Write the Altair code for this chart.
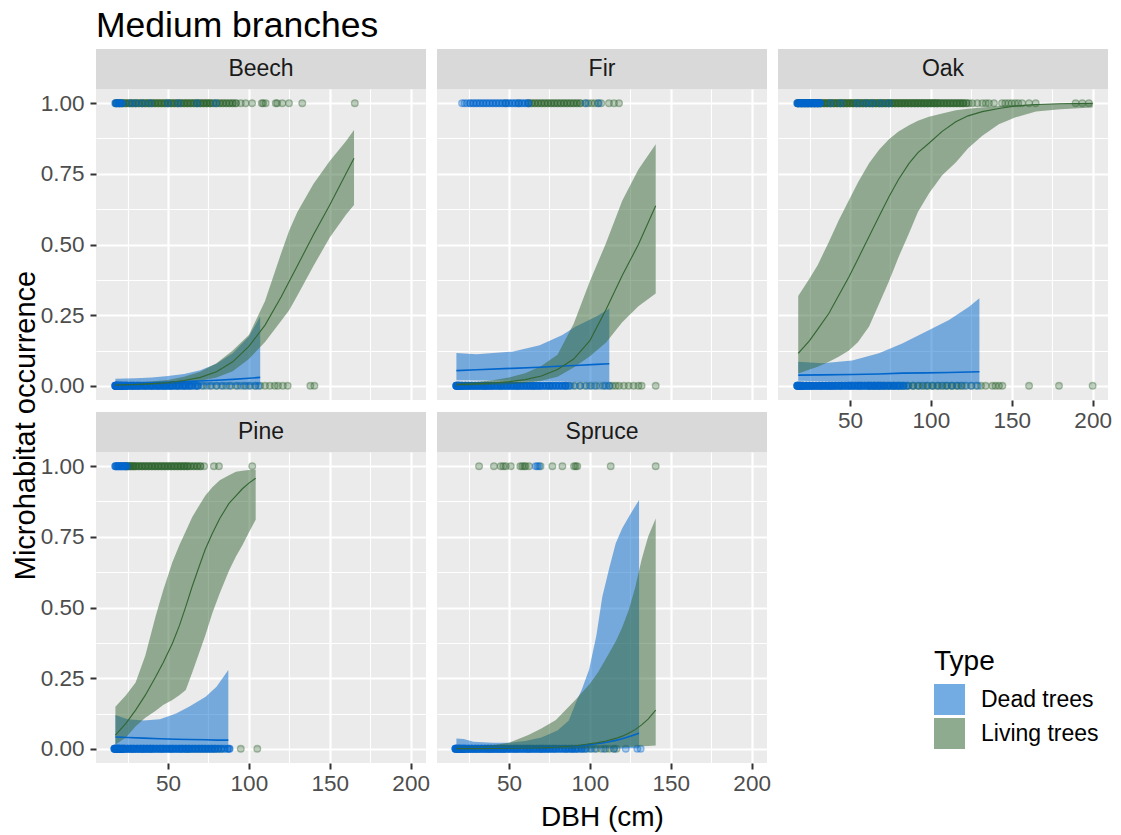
import itertools
import altair as alt
import pandas as pd

# ---------------- data ----------------
SPECIES = ["Beech", "Fir", "Oak", "Pine", "Spruce"]
TYPES = ["Dead trees", "Living trees"]
COLORS = ["#0066CC", "#336633"]

# observed trees (DBH in cm) with occurrence 1 / 0; *_n = trees sharing that DBH
# (estimated from how dark the dense runs are; values past the end of *_n count once)
beech_dead_y1 = [17.5, 18.5, 19.5, 20.5, 21.5, 27, 30, 34, 39, 50, 56.5, 68, 79.5]
beech_dead_y1_n = [2, 2, 2, 2, 2]
beech_live_y1 = [18, 20, 22, 24, 26, 28, 30, 32, 34, 36, 38, 40, 42, 44, 46, 48, 50, 52, 54, 56, 58, 60,
                 62, 64, 66, 68, 70, 72, 74, 76, 78, 80, 82, 84, 86, 88, 90, 92, 95, 98, 102, 108, 108.8,
                 110.4, 116.6, 117.5, 120.7, 124.8, 133, 165.5]
beech_live_y1_n = [3, 3, 3, 3, 3, 3, 3, 3, 3, 3, 3, 3, 3, 3, 3, 3, 3, 3, 3, 3, 3, 3, 3, 3, 3, 3, 3, 3,
                   3, 3, 2, 2, 2, 2, 2, 2, 2, 2]
beech_dead_y0 = [17.5, 18, 18.5, 19, 20, 21, 22, 23.5, 25, 27, 29, 31, 33, 35, 37, 39, 41, 43, 45, 47,
                 49, 51, 53, 55, 57, 59, 61, 63, 65, 67, 68.5, 72, 76, 80, 84, 88, 93, 97, 100, 104, 106]
beech_dead_y0_n = [6, 6, 6, 6, 6, 6, 6, 6, 5, 5, 5, 5, 4, 4, 4, 4, 4, 4, 4, 4, 4, 4, 3, 3, 3, 3, 3, 3,
                   2, 2, 2]
beech_live_y0 = [20, 24, 28, 32, 36, 40, 44, 48, 52, 56, 60, 64, 68, 71, 74, 77, 80, 83, 86, 89, 92, 95,
                 98, 101, 104, 107, 110, 113, 116, 118, 121, 124, 138, 140.5]
beech_live_y0_n = []

fir_dead_y1 = [21, 22.5, 24, 26, 28, 30, 32, 34, 36, 38, 40, 42, 44, 46, 48, 50, 52, 54, 56, 58, 60, 62,
               97.5, 105.5]
fir_dead_y1_n = [1, 1, 1, 2, 2, 2, 2, 2, 2, 2, 2, 2, 2, 2, 2, 2, 2, 2, 2, 2, 2, 2]
fir_live_y1 = [48, 56, 62, 64, 66, 68, 70, 72, 74, 76, 78, 80, 82, 84, 86, 88, 90, 92, 94, 97, 99, 101,
               103, 105, 107, 111.8, 114.9, 118]
fir_live_y1_n = [1, 1, 2, 2, 2, 2, 2, 2, 2, 2, 2, 2, 2, 2, 2, 2, 2, 2, 2]
fir_dead_y0 = [17.5, 18.5, 19.5, 21, 23, 25, 27, 29, 31, 33, 35, 37, 39, 41, 43, 45, 47, 49, 51, 53, 55,
               57, 59, 61, 63, 65, 67, 69, 71, 73, 75, 77, 79, 81, 83, 85, 87, 90, 94, 98, 101, 104, 108,
               110, 112]
fir_dead_y0_n = [6, 6, 6, 6, 6, 5, 5, 5, 5, 5, 5, 5, 5, 4, 4, 4, 4, 4, 4, 4, 4, 4, 4, 4, 4, 4, 4, 4, 3,
                 3, 3, 3, 3, 3, 3, 3, 2]
fir_live_y0 = [25, 35, 45, 55, 65, 75, 85, 88, 91, 94, 97, 100, 103, 106, 109, 112, 114, 116, 118, 121,
               124, 127, 130, 132, 140.7]
fir_live_y0_n = []

oak_dead_y1 = [17.5, 18.5, 19.5, 20.5, 21.5, 22.5, 23.5, 24.5, 25.5, 26.5, 27.5, 28.5, 29.5, 30.5, 31.5,
               38, 44.3, 54.5, 59.7, 63.8, 69, 74]
oak_dead_y1_n = [3, 3, 3, 3, 3, 3, 3, 3, 3, 3, 3, 3, 3, 3, 3]
oak_live_y1 = [18, 20, 22, 24, 26, 28, 30, 32, 34, 36, 38, 40, 42, 44, 46, 48, 50, 52, 54, 56, 58, 60, 62,
               64, 66, 68, 70, 72, 74, 76, 78, 80, 82, 84, 86, 88, 90, 92, 94, 96, 98, 100, 102, 104, 106,
               108, 110, 112, 114, 116, 118, 120, 122, 123.5, 125.6, 128.7, 131.8, 134, 135.9, 139, 144,
               146, 148, 150, 152, 154, 156.4, 160.7, 164.8, 189.5, 193.6, 197.7]
oak_live_y1_n = [4, 4, 4, 4, 4, 4, 4, 4, 4, 4, 4, 4, 4, 4, 4, 4, 4, 4, 4, 4, 4, 4, 4, 4, 4, 4, 4, 4, 4,
                 4, 4, 4, 4, 4, 4, 4, 4, 4, 4, 4, 4, 4, 4, 4, 3, 3, 3, 3, 3, 3, 3, 3, 2]
oak_dead_y0 = [17.5, 18.5, 19.5, 21, 23, 25, 27, 29, 31, 33, 35, 37, 39, 41, 43, 45, 47, 49, 51, 53, 55,
               57, 59, 61, 63, 65, 67, 69, 71, 73, 75, 77, 79, 81, 83, 85, 89, 93, 97, 101, 105, 109, 113,
               117, 121, 125, 129]
oak_dead_y0_n = [6, 6, 6, 6, 6, 6, 5, 5, 5, 5, 5, 5, 5, 5, 4, 4, 4, 4, 4, 4, 4, 4, 4, 4, 4, 4, 4, 4, 3,
                 3, 3, 3, 3, 3, 2, 2]
oak_live_y0 = [20, 26, 32, 38, 44, 50, 56, 62, 65, 68, 71, 74, 77, 80, 83, 86, 89, 92, 95, 98, 101, 104,
               107, 110, 113, 116, 119, 122, 125, 128, 131, 133.9, 138, 140, 142.1, 144.2, 160.7, 179.2, 200]
oak_live_y0_n = [1, 1, 1, 1, 1, 1, 1, 2, 2, 2, 2, 2, 2, 2, 2, 2, 2, 2, 2, 2, 2, 2, 2, 2, 2, 2, 2]

pine_dead_y1 = [17.5, 18.5, 19.5, 20.5, 21.5, 22.5, 23.5, 24.5]
pine_dead_y1_n = [3, 3, 3, 3, 3, 3, 2, 2]
pine_live_y1 = [24, 25.5, 27, 28.5, 30, 32, 34, 36, 38, 40, 42, 44, 46, 48, 50, 52, 54, 56, 58, 60, 62,
                64, 66, 68, 70, 72.3, 78.4, 81.5, 102.1]
pine_live_y1_n = [3, 3, 3, 3, 3, 3, 3, 3, 3, 3, 3, 3, 3, 3, 3, 3, 3, 3, 3, 3, 3, 2, 2, 2, 2]
pine_dead_y0 = [17, 18, 19, 20, 21.5, 23, 25, 27, 29, 31, 33, 35, 37, 39, 41, 43, 45, 47, 49, 51, 53, 55,
                57, 59, 61, 63, 65, 67, 69, 71, 73, 75, 77, 79, 81, 83, 85, 87, 88]
pine_dead_y0_n = [6, 6, 6, 6, 6, 6, 5, 5, 5, 5, 5, 5, 5, 5, 4, 4, 4, 4, 4, 4, 4, 4, 4, 4, 4, 4, 3, 3, 3,
                  3, 3, 3, 3, 3, 2, 2, 2, 2, 2]
pine_live_y0 = [22, 28, 34, 40, 46, 52, 58, 61, 63, 65, 67, 69, 71, 73, 75, 77, 79, 81, 83, 95, 105.2]
pine_live_y0_n = []

spruce_dead_y1 = [66.5, 67.5, 68.6]
spruce_dead_y1_n = []
spruce_live_y1 = [31.5, 40.7, 44.9, 46.5, 48, 51.1, 57, 58.2, 59.5, 60.3, 62.4, 69.5, 76.8, 83, 90.2,
                  91.2, 92.2, 112.9, 140.7]
spruce_live_y1_n = []
spruce_dead_y0 = [17, 18, 19, 20, 21.5, 23, 25, 27, 29, 31, 33, 35, 37, 39, 41, 43, 45, 47, 49, 51, 53,
                  55, 57, 59, 61, 63, 65, 67, 69, 71, 73, 75, 77, 79, 81, 83, 85, 87, 89, 91, 93, 95, 97,
                  100, 103, 108.7, 114.9, 122.2, 129.3, 131.4]
spruce_dead_y0_n = [6, 6, 6, 6, 6, 6, 6, 6, 5, 5, 5, 5, 5, 5, 5, 5, 5, 5, 4, 4, 4, 4, 4, 4, 4, 4, 4, 4,
                    4, 4, 4, 4, 3, 3, 3, 3, 3, 3, 3, 3, 2, 2, 2]
spruce_live_y0 = [22, 30, 38, 46, 54, 62, 70, 78, 85, 89, 92, 95, 98, 101, 104, 107, 109.8, 112, 114.9,
                  116.5]
spruce_live_y0_n = []

# fitted probability curves with confidence band (dbh, fit, lower, upper)
bd_x = [17.5, 30, 40, 50, 60, 70, 80, 90, 100, 107]
bd_fit = [0.008, 0.010, 0.011, 0.013, 0.015, 0.017, 0.020, 0.023, 0.027, 0.030]
bd_lo = [0.001, 0.001, 0.0015, 0.002, 0.002, 0.0025, 0.003, 0.003, 0.003, 0.003]
bd_hi = [0.025, 0.027, 0.030, 0.035, 0.042, 0.055, 0.078, 0.115, 0.175, 0.245]

bl_x = [17.5, 30, 40, 50, 60, 70, 80, 90, 100, 110, 120, 125, 130, 140, 150, 160, 165]
bl_fit = [0.003, 0.005, 0.008, 0.012, 0.019, 0.030, 0.050, 0.085, 0.140, 0.215, 0.315, 0.370, 0.425,
          0.535, 0.640, 0.750, 0.805]
bl_lo = [0.001, 0.002, 0.004, 0.007, 0.011, 0.018, 0.030, 0.052, 0.095, 0.155, 0.230, 0.268, 0.320,
         0.425, 0.525, 0.605, 0.640]
bl_hi = [0.008, 0.011, 0.015, 0.021, 0.032, 0.050, 0.080, 0.125, 0.180, 0.300, 0.470, 0.550, 0.615,
         0.715, 0.795, 0.865, 0.905]

fd_x = [17.5, 30, 52, 69, 83, 91, 104, 112]
fd_fit = [0.054, 0.057, 0.062, 0.066, 0.070, 0.072, 0.076, 0.078]
fd_lo = [0.020, 0.019, 0.018, 0.016, 0.015, 0.014, 0.013, 0.012]
fd_hi = [0.116, 0.112, 0.121, 0.144, 0.180, 0.209, 0.245, 0.274]

fl_x = [17.5, 30, 40, 50, 60, 70, 80, 90, 100, 110, 120, 130, 140.7]
fl_fit = [0.004, 0.007, 0.010, 0.015, 0.022, 0.035, 0.058, 0.095, 0.160, 0.270, 0.390, 0.500, 0.637]
fl_lo = [0.001, 0.002, 0.004, 0.006, 0.010, 0.018, 0.032, 0.065, 0.105, 0.153, 0.225, 0.282, 0.327]
fl_hi = [0.010, 0.014, 0.020, 0.030, 0.045, 0.070, 0.110, 0.220, 0.370, 0.505, 0.655, 0.765, 0.855]

od_x = [18, 33, 51.4, 67.9, 82.3, 96.8, 111.2, 123.6, 130]
od_fit = [0.038, 0.039, 0.040, 0.042, 0.045, 0.046, 0.047, 0.049, 0.050]
od_lo = [0.018, 0.016, 0.014, 0.013, 0.012, 0.011, 0.010, 0.009, 0.008]
od_hi = [0.085, 0.080, 0.090, 0.115, 0.150, 0.191, 0.233, 0.280, 0.310]

ol_x = [18, 25, 30, 37, 43, 49.4, 55, 61.8, 68, 74.1, 80, 86.5, 92, 98.8, 107, 115.4, 123, 131.8, 142,
        152.4, 165, 180, 200]
ol_fit = [0.115, 0.160, 0.200, 0.257, 0.320, 0.386, 0.450, 0.528, 0.600, 0.669, 0.730, 0.787, 0.825,
          0.858, 0.900, 0.934, 0.955, 0.970, 0.981, 0.990, 0.995, 0.998, 0.999]
ol_lo = [0.044, 0.058, 0.068, 0.085, 0.103, 0.125, 0.155, 0.210, 0.290, 0.370, 0.455, 0.540, 0.615,
         0.680, 0.745, 0.790, 0.840, 0.885, 0.925, 0.950, 0.970, 0.978, 0.985]
ol_hi = [0.318, 0.380, 0.427, 0.510, 0.585, 0.657, 0.720, 0.787, 0.835, 0.872, 0.900, 0.922, 0.938,
         0.952, 0.963, 0.975, 0.980, 0.985, 0.990, 0.993, 0.996, 0.998, 0.9995]

pd_x = [17.5, 25, 35, 45, 55, 63, 73.3, 80, 87.3]
pd_fit = [0.042, 0.040, 0.038, 0.036, 0.034, 0.033, 0.032, 0.031, 0.031]
pd_lo = [0.012, 0.010, 0.008, 0.007, 0.006, 0.005, 0.004, 0.003, 0.003]
pd_hi = [0.120, 0.105, 0.100, 0.105, 0.125, 0.149, 0.184, 0.220, 0.279]

pl_x = [17.5, 24, 30, 36, 42.4, 47, 52.7, 57, 61, 65, 69.2, 73, 77.4, 82, 87.7, 92, 96, 100, 104.2]
pl_fit = [0.049, 0.090, 0.137, 0.190, 0.255, 0.305, 0.373, 0.435, 0.503, 0.575, 0.644, 0.705, 0.762,
          0.815, 0.868, 0.895, 0.920, 0.940, 0.957]
pl_lo = [0.015, 0.040, 0.080, 0.110, 0.135, 0.155, 0.173, 0.190, 0.208, 0.270, 0.338, 0.400, 0.480,
         0.550, 0.630, 0.680, 0.720, 0.765, 0.810]
pl_hi = [0.149, 0.190, 0.235, 0.330, 0.470, 0.560, 0.660, 0.720, 0.770, 0.820, 0.860, 0.895, 0.925,
         0.950, 0.968, 0.980, 0.984, 0.986, 0.987]

sd_x = [17.5, 22, 28, 40, 50, 60, 70, 80, 87, 91.2, 95, 99.5, 104, 107.7, 112, 116, 120, 125, 130.4]
sd_fit = [0.003, 0.003, 0.003, 0.003, 0.004, 0.004, 0.005, 0.007, 0.009, 0.010, 0.012, 0.015, 0.018,
          0.021, 0.025, 0.030, 0.036, 0.045, 0.055]
sd_lo = [0.0004, 0.0004, 0.0004, 0.0004, 0.0005, 0.0005, 0.0006, 0.0007, 0.0008, 0.0009, 0.0010,
         0.0011, 0.0012, 0.0013, 0.0014, 0.0015, 0.0016, 0.0018, 0.0020]
sd_hi = [0.037, 0.035, 0.025, 0.022, 0.022, 0.028, 0.040, 0.065, 0.100, 0.161, 0.210, 0.280, 0.400,
         0.538, 0.640, 0.727, 0.780, 0.830, 0.880]

sl_x = [17.5, 30, 40, 50, 62, 70, 79, 91, 100, 105, 110, 116, 120, 124, 128, 132, 136, 140.7]
sl_fit = [0.001, 0.001, 0.0015, 0.002, 0.003, 0.004, 0.006, 0.011, 0.018, 0.022, 0.028, 0.037, 0.045,
          0.055, 0.068, 0.085, 0.105, 0.137]
sl_lo = [0.0002, 0.0002, 0.0003, 0.0004, 0.0005, 0.0007, 0.001, 0.0015, 0.002, 0.003, 0.004, 0.005,
         0.006, 0.007, 0.008, 0.009, 0.010, 0.012]
sl_hi = [0.008, 0.009, 0.013, 0.022, 0.049, 0.072, 0.102, 0.173, 0.230, 0.270, 0.320, 0.380, 0.430,
         0.490, 0.570, 0.670, 0.750, 0.815]

X_TICKS = [25, 50, 75, 100, 125, 150, 175, 200]
Y_TICKS = [0, 0.125, 0.25, 0.375, 0.5, 0.625, 0.75, 0.875, 1.0]

# ---------------- tables ----------------
point_sets = {
    "Beech": [(TYPES[1], 1, beech_live_y1, beech_live_y1_n), (TYPES[1], 0, beech_live_y0, beech_live_y0_n),
              (TYPES[0], 1, beech_dead_y1, beech_dead_y1_n), (TYPES[0], 0, beech_dead_y0, beech_dead_y0_n)],
    "Fir": [(TYPES[1], 1, fir_live_y1, fir_live_y1_n), (TYPES[1], 0, fir_live_y0, fir_live_y0_n),
            (TYPES[0], 1, fir_dead_y1, fir_dead_y1_n), (TYPES[0], 0, fir_dead_y0, fir_dead_y0_n)],
    "Oak": [(TYPES[1], 1, oak_live_y1, oak_live_y1_n), (TYPES[1], 0, oak_live_y0, oak_live_y0_n),
            (TYPES[0], 1, oak_dead_y1, oak_dead_y1_n), (TYPES[0], 0, oak_dead_y0, oak_dead_y0_n)],
    "Pine": [(TYPES[1], 1, pine_live_y1, pine_live_y1_n), (TYPES[1], 0, pine_live_y0, pine_live_y0_n),
             (TYPES[0], 1, pine_dead_y1, pine_dead_y1_n), (TYPES[0], 0, pine_dead_y0, pine_dead_y0_n)],
    "Spruce": [(TYPES[1], 1, spruce_live_y1, spruce_live_y1_n),
               (TYPES[1], 0, spruce_live_y0, spruce_live_y0_n),
               (TYPES[0], 1, spruce_dead_y1, spruce_dead_y1_n),
               (TYPES[0], 0, spruce_dead_y0, spruce_dead_y0_n)],
}
curve_sets = {
    "Beech": ((bd_x, bd_fit, bd_lo, bd_hi), (bl_x, bl_fit, bl_lo, bl_hi)),
    "Fir": ((fd_x, fd_fit, fd_lo, fd_hi), (fl_x, fl_fit, fl_lo, fl_hi)),
    "Oak": ((od_x, od_fit, od_lo, od_hi), (ol_x, ol_fit, ol_lo, ol_hi)),
    "Pine": ((pd_x, pd_fit, pd_lo, pd_hi), (pl_x, pl_fit, pl_lo, pl_hi)),
    "Spruce": ((sd_x, sd_fit, sd_lo, sd_hi), (sl_x, sl_fit, sl_lo, sl_hi)),
}

prow = []
crow = []
for sp in SPECIES:
    for typ, occ, vals, counts in point_sets[sp]:
        for v, n in itertools.zip_longest(vals, counts[:len(vals)], fillvalue=1):
            for _ in range(n):
                prow.append((sp, typ, v, occ))
    for typ, (xs, fs, ls, hs) in zip(TYPES, curve_sets[sp]):
        for a, b, c, d in zip(xs, fs, ls, hs):
            crow.append((sp, typ, a, b, c, d))
points = pd.DataFrame(prow, columns=["species", "type", "dbh", "occ"])
curves = pd.DataFrame(crow, columns=["species", "type", "dbh", "fit", "lo", "hi"])

# ---------------- chart ----------------
FONT = "Liberation Sans"
W, H, STRIP = 330, 311, 40
XDOM, YDOM = [5.5, 209.5], [-0.05, 1.05]
xscale = alt.Scale(domain=XDOM, nice=False, zero=False)
yscale = alt.Scale(domain=YDOM, nice=False, zero=False)
XMAJ = "datum.value % 50 === 0"
YMAJ = "abs(datum.value * 4 - round(datum.value * 4)) < 0.001"


def x_axis(show, title=None):
    return alt.Axis(
        values=X_TICKS, grid=True, gridColor="#FFFFFF",
        gridWidth={"condition": {"test": XMAJ, "value": 2.2}, "value": 1.1},
        domain=False, ticks=show, tickColor="#333333", tickSize=6, tickWidth=2,
        tickOpacity={"condition": {"test": XMAJ, "value": 1}, "value": 0},
        labels=show, labelExpr=f"{XMAJ} ? datum.label : ''", labelFont=FONT,
        labelFontSize=22.5, labelColor="#4D4D4D", labelPadding=3, labelOverlap=False,
        labelFlush=False, title=title, titleFont=FONT, titleFontSize=28,
        titleFontWeight="normal", titleColor="#000000", titlePadding=9,
    )


def y_axis(show, with_title=False):
    if with_title:
        extra = dict(title="Microhabitat occurrence", titleX=-71, titleY=336,
                     titleAlign="center", titleBaseline="middle", titleAngle=270)
    else:
        extra = dict(title=None)
    return alt.Axis(
        values=Y_TICKS, grid=True, gridColor="#FFFFFF",
        gridWidth={"condition": {"test": YMAJ, "value": 2.2}, "value": 1.1},
        domain=False, ticks=show, tickColor="#333333", tickSize=6, tickWidth=2,
        tickOpacity={"condition": {"test": YMAJ, "value": 1}, "value": 0},
        labels=show, labelExpr=f"{YMAJ} ? format(datum.value, '.2f') : ''", labelFont=FONT,
        labelFontSize=22.5, labelColor="#4D4D4D", labelPadding=6, labelOverlap=False,
        labelFlush=False, titleFont=FONT, titleFontSize=29, titleFontWeight="normal",
        titleColor="#000000", **extra,
    )


legend = alt.Legend(
    title="Type", orient="none", legendX=838, legendY=559, direction="vertical",
    titleFont=FONT, titleFontSize=28, titleFontWeight="normal", titleColor="#000000",
    titlePadding=8, labelFont=FONT, labelFontSize=23, labelColor="#000000", labelOffset=16,
    symbolType="square", symbolSize=961, symbolOpacity=0.55, symbolStrokeWidth=0, rowPadding=3,
)


def panel(sp, show_x, show_y, x_title=None, y_title=False):
    xa = x_axis(show_x, x_title)
    ya = y_axis(show_y, y_title)
    pts = points[points.species == sp]
    crv = curves[curves.species == sp]
    lab = pd.DataFrame({"species": [sp]})
    strip = alt.Chart(lab).mark_rect(fill="#D9D9D9").encode(
        x=alt.value(0), x2=alt.value(W), y=alt.value(-STRIP), y2=alt.value(0))
    strip_txt = alt.Chart(lab).mark_text(
        font=FONT, fontSize=23, color="#1A1A1A", baseline="middle", align="center"
    ).encode(x=alt.value(W / 2), y=alt.value(-STRIP / 2), text="species:N")
    layers = [strip, strip_txt]
    # points: living drawn first, dead on top
    for typ, col in [(TYPES[1], COLORS[1]), (TYPES[0], COLORS[0])]:
        layers.append(
            alt.Chart(pts[pts.type == typ]).mark_circle(
                size=45, opacity=1, fill=col, stroke=col, fillOpacity=0.3,
                strokeOpacity=0.38, strokeWidth=1.3,
            ).encode(
                x=alt.X("dbh:Q", scale=xscale, axis=xa),
                y=alt.Y("occ:Q", scale=yscale, axis=ya),
            )
        )
    band = alt.Chart(crv).mark_area(opacity=0.5).encode(
        x=alt.X("dbh:Q", scale=xscale, axis=xa),
        y=alt.Y("lo:Q", scale=yscale, axis=ya),
        y2="hi:Q",
        color=alt.Color("type:N", scale=alt.Scale(domain=TYPES, range=COLORS), legend=legend),
    )
    layers.append(band)
    for typ, col, lw in [(TYPES[0], COLORS[0], 1.6), (TYPES[1], COLORS[1], 1.1)]:
        layers.append(
            alt.Chart(crv[crv.type == typ]).mark_line(strokeWidth=lw, color=col).encode(
                x=alt.X("dbh:Q", scale=xscale, axis=xa),
                y=alt.Y("fit:Q", scale=yscale, axis=ya),
            )
        )
    return alt.layer(*layers).properties(width=W, height=H)


chart = alt.concat(
    panel("Beech", False, True, y_title=True),
    panel("Fir", False, False),
    panel("Oak", True, False),
    panel("Pine", True, True),
    panel("Spruce", True, False, x_title="DBH (cm)"),
    columns=3,
    spacing={"row": 52, "column": 11},
    bounds="flush",
).properties(
    title=alt.TitleParams(text="Medium branches", anchor="start", frame="group", font=FONT,
                          fontSize=35.5, fontWeight="normal", color="#000000", offset=4.5),
    padding={"left": 11, "top": 9, "right": 5, "bottom": 5},
).configure(background="#FFFFFF").configure_view(fill="#EBEBEB", strokeWidth=0)

chart.save("out.html", embed_options={"renderer": "svg", "actions": False})
